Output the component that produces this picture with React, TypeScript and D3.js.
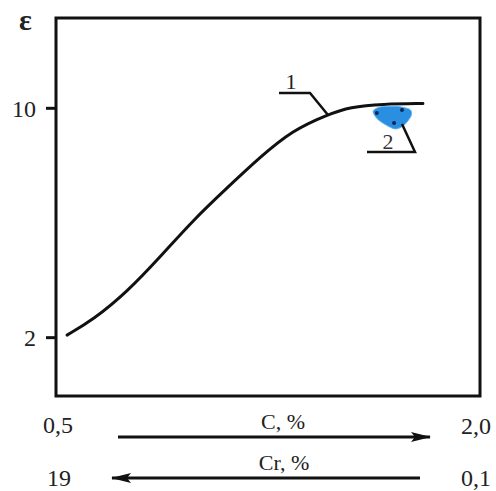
import React from "react";
import * as d3 from "d3";

const cValues = [0.539, 0.631, 0.751, 0.868, 0.985, 1.105, 1.222, 1.338, 1.459, 1.54, 1.657, 1.798];
const epsValues = [2.09, 2.62, 3.59, 4.81, 6.1, 7.22, 8.3, 9.24, 9.77, 10.05, 10.15, 10.17];
const yTicks = [2, 10];
const blobC = [1.622, 1.648, 1.704, 1.752, 1.756, 1.73, 1.7, 1.666, 1.636];
const blobEps = [9.9, 10.05, 10.07, 9.96, 9.73, 9.4, 9.28, 9.43, 9.64];
const dotC = [1.635, 1.724, 1.696];
const dotEps = [9.84, 9.94, 9.49];

const W = 496, H = 491;
const L = 56, R = 480, T = 18, B = 396;

export default function App() {
  const x = d3.scaleLinear().domain([0.5, 2.0]).range([L, R]);
  const y = d3.scaleLinear().domain([0, 13.15]).range([395, T]);
  const pts: [number, number][] = cValues.map((c, i) => [x(c), y(epsValues[i])]);
  const line = d3.line().curve(d3.curveBasis);
  const blobPts: [number, number][] = blobC.map((c, i) => [x(c), y(blobEps[i])]);
  const blob = d3.line().curve(d3.curveCardinalClosed.tension(0.2));
  const font = "'Liberation Serif', 'DejaVu Serif', serif";
  const allPts: [number, number][] = [pts[0], ...pts, pts[pts.length - 1]];
  return (
    <svg width={W} height={H} style={{ position: "absolute", left: 0, top: 0, background: "#fff" }} fontFamily={font}>
      <defs>
        <marker id="ah" viewBox="0 0 20 10" refX="19" refY="5" markerWidth="20" markerHeight="10" markerUnits="userSpaceOnUse" orient="auto-start-reverse">
          <path d="M0,0 L20,5 L0,10 L4,5 Z" fill="#111" />
        </marker>
      </defs>
      <rect x={L} y={T} width={R - L} height={B - T} fill="none" stroke="#111" strokeWidth={3} />
      {yTicks.map((t) => (
        <g key={t}>
          <line x1={L - 10} x2={L} y1={y(t)} y2={y(t)} stroke="#111" strokeWidth={3} />
          <text x={L - 20} y={y(t)} dy="0.35em" textAnchor="end" fontSize={24} fill="#222">{t}</text>
        </g>
      ))}
      <text x={19} y={30} fontSize={30} fontWeight="bold" fill="#222">ε</text>
      <path d={line(allPts) || ""} fill="none" stroke="#111" strokeWidth={3} strokeLinecap="round" />
      <path d={blob(blobPts) || ""} fill="#2a8fe0" stroke="#5fb0f0" strokeWidth={1} />
      {dotC.map((c, i) => (
        <circle key={i} cx={x(c)} cy={y(dotEps[i])} r={2} fill="#0b2a55" />
      ))}
      <polyline points="279,93 310,93 328,115" fill="none" stroke="#111" strokeWidth={2.5} />
      <text x={291} y={89} fontSize={22} textAnchor="middle" fill="#222">1</text>
      <polyline points="367,152 415,152 402,124" fill="none" stroke="#111" strokeWidth={2.5} />
      <text x={388} y={149} fontSize={22} textAnchor="middle" fill="#333">2</text>
      <text x={58} y={433} fontSize={24} textAnchor="middle" fill="#222">0,5</text>
      <text x={461} y={434} fontSize={24} fill="#222">2,0</text>
      <text x={59} y={486} fontSize={24} textAnchor="middle" fill="#222">19</text>
      <text x={461} y={486} fontSize={24} fill="#222">0,1</text>
      <line x1={118} x2={430} y1={437} y2={437} stroke="#111" strokeWidth={3} markerEnd="url(#ah)" />
      <text x={283} y={429} fontSize={22} textAnchor="middle" fill="#222">C, %</text>
      <line x1={112} x2={420} y1={478} y2={478} stroke="#111" strokeWidth={3} markerStart="url(#ah)" />
      <text x={284} y={470} fontSize={22} textAnchor="middle" fill="#222">Cr, %</text>
    </svg>
  );
}
